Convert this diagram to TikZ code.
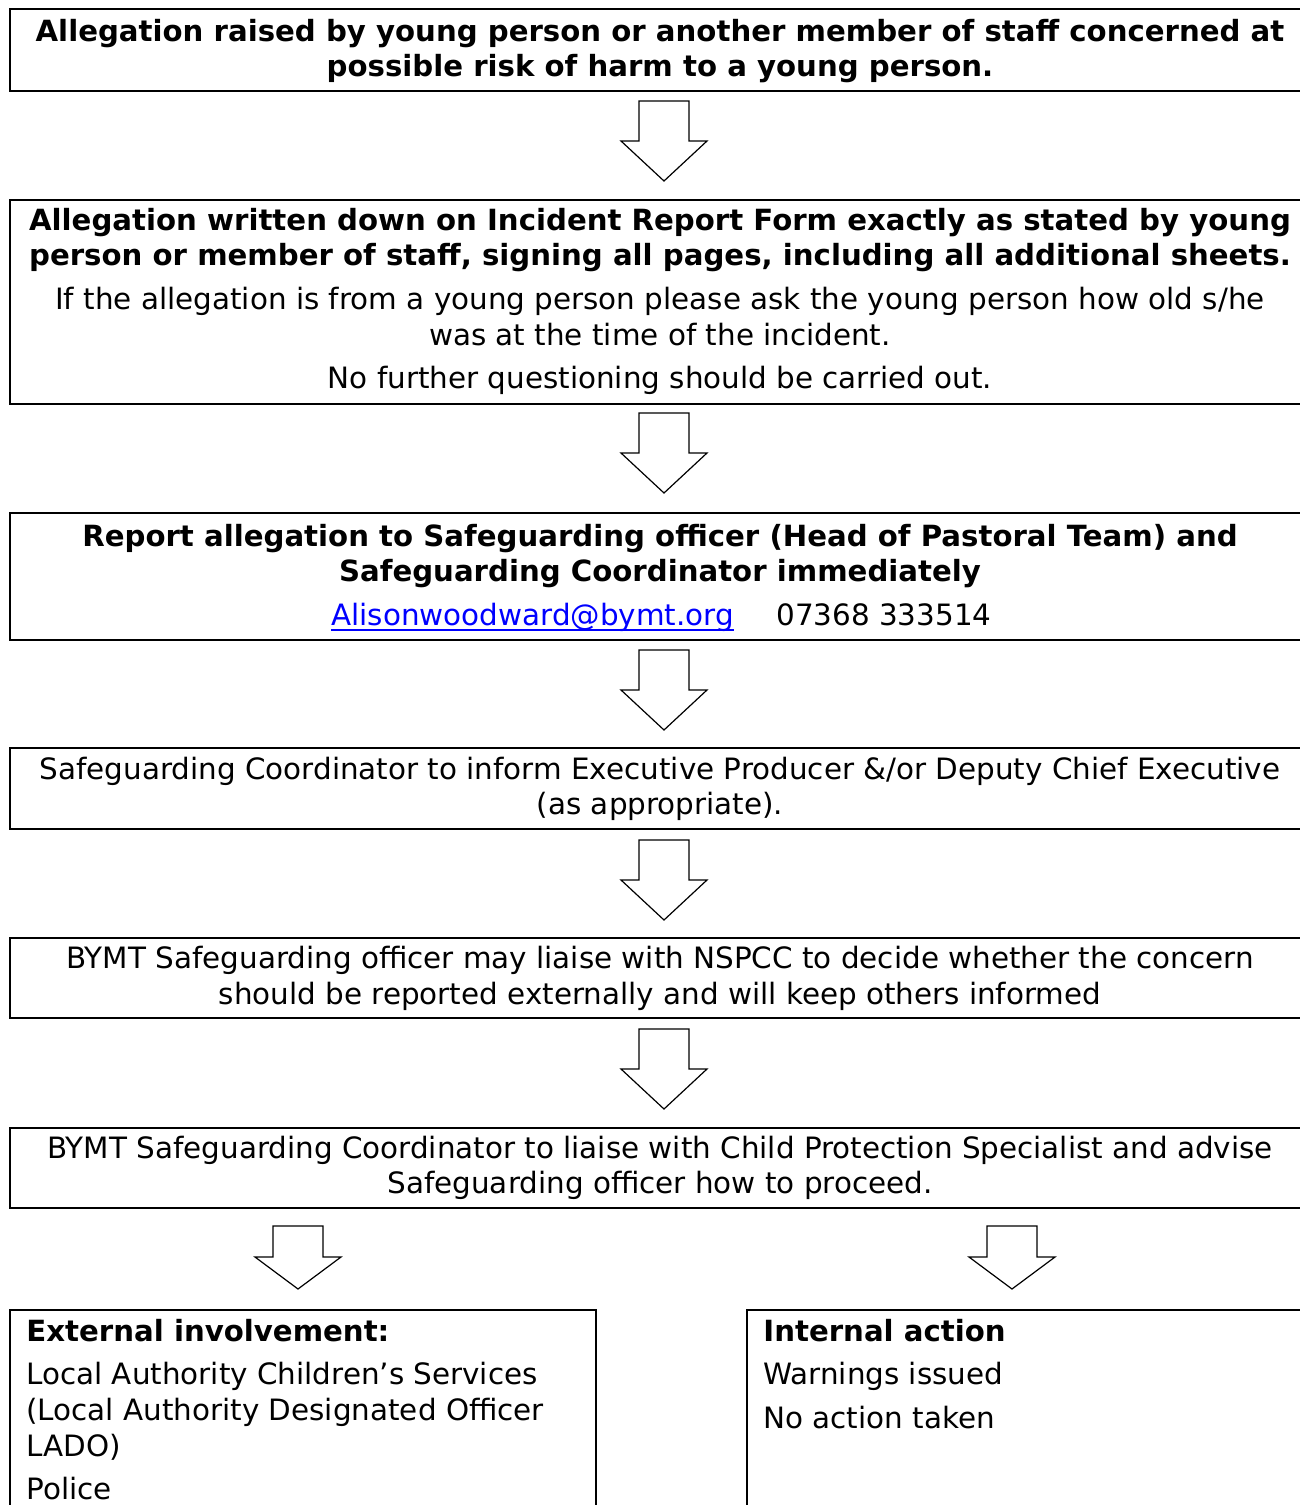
\documentclass[tikz,border=0pt]{standalone}
\usepackage{fontspec}
\setmainfont{DejaVu Sans}
\usetikzlibrary{fit}
\definecolor{linkblue}{RGB}{0,0,255}
\newcommand\blockarrow[4]{%
  \draw[arr] ({#1-25},#2) -- ({#1+25},#2) -- ({#1+25},#3) -- ({#1+43},#3) -- (#1,#4) -- ({#1-43},#3) -- ({#1-25},#3) -- cycle;}
\begin{document}
\begin{tikzpicture}[x=0.5pt,y=-0.5pt,
  box/.style={draw, line width=0.9pt, inner sep=0pt},
  arr/.style={draw, line width=0.6pt, line join=miter, fill=white},
  tx/.style={anchor=base, inner sep=0pt, font=\fontsize{14.7}{17}\selectfont},
  bx/.style={anchor=base, inner sep=0pt, font=\fontsize{14.6}{17}\selectfont\bfseries},
  tl/.style={anchor=base west, inner sep=0pt, font=\fontsize{14.7}{17}\selectfont},
  bl/.style={anchor=base west, inner sep=0pt, font=\fontsize{14.6}{17}\selectfont\bfseries}]
\useasboundingbox (0,0) rectangle (1300,1505);
\begin{scope}
\clip (0,0) rectangle (1300,1505);
% boxes
\node[box, fit={(10,9) (1310,91)}] (b1) {};
\node[box, fit={(10,200) (1310,404)}] (b2) {};
\node[box, fit={(10,513) (1310,640)}] (b3) {};
\node[box, fit={(10,748) (1310,829)}] (b4) {};
\node[box, fit={(10,938) (1310,1018)}] (b5) {};
\node[box, fit={(10,1128) (1310,1208)}] (b6) {};
\node[box, fit={(10,1310) (596,1530)}] (b7) {};
\node[box, fit={(747,1310) (1310,1530)}] (b8) {};
\end{scope}
% arrows
\blockarrow{664}{101}{141}{181}
\blockarrow{664}{413}{453}{493}
\blockarrow{664}{650}{690}{730}
\blockarrow{664}{840}{880}{920}
\blockarrow{664}{1029}{1069}{1109}
\blockarrow{298}{1226}{1257}{1289}
\blockarrow{1012}{1226}{1257}{1289}
% texts
\node[bx] (t1a) at (660,41) {Allegation raised by young person or another member of staff concerned at};
\node[bx] (t1b) at (660,76) {possible risk of harm to a young person.};
\node[bx] (t2a) at (660,230) {Allegation written down on Incident Report Form exactly as stated by young};
\node[bx] (t2b) at (660,265) {person or member of staff, signing all pages, including all additional sheets.};
\node[tx] (t2c) at (660,309) {If the allegation is from a young person please ask the young person how old s/he};
\node[tx] (t2d) at (660,345) {was at the time of the incident.};
\node[tx] (t2e) at (660,388) {No further questioning should be carried out.};
\node[bx] (t3a) at (660,546) {Report allegation to Safeguarding officer (Head of Pastoral Team) and};
\node[bx] (t3b) at (660,581) {Safeguarding Coordinator immediately};
\node[tl, text=linkblue] (t3c) at (331,625) {Alisonwoodward@bymt.org};
\draw[linkblue, line width=0.8pt] ([yshift=-2.6pt]t3c.base west) -- ([yshift=-2.6pt]t3c.base east);
\node[tl] (t3d) at (776,625) {07368 333514};
\node[tx] (t4a) at (660,779) {Safeguarding Coordinator to inform Executive Producer \&/or Deputy Chief Executive};
\node[tx] (t4b) at (660,814) {(as appropriate).};
\node[tx] (t5a) at (660,968) {BYMT Safeguarding officer may liaise with NSPCC to decide whether the concern};
\node[tx] (t5b) at (660,1004) {should be reported externally and will keep others informed};
\node[tx] (t6a) at (660,1158) {BYMT Safeguarding Coordinator to liaise with Child Protection Specialist and advise};
\node[tx] (t6b) at (660,1193) {Safeguarding officer how to proceed.};
\node[bl] (t7a) at (26,1341) {External involvement:};
\node[tl] (t7b) at (26,1384) {Local Authority Children’s Services};
\node[tl] (t7c) at (26,1420) {(Local Authority Designated Officer};
\node[tl] (t7d) at (26,1456) {LADO)};
\node[tl] (t7e) at (26,1499) {Police};
\node[bl] (t8a) at (763,1341) {Internal action};
\node[tl] (t8b) at (763,1384) {Warnings issued};
\node[tl] (t8c) at (763,1428) {No action taken};
\end{tikzpicture}
\end{document}
